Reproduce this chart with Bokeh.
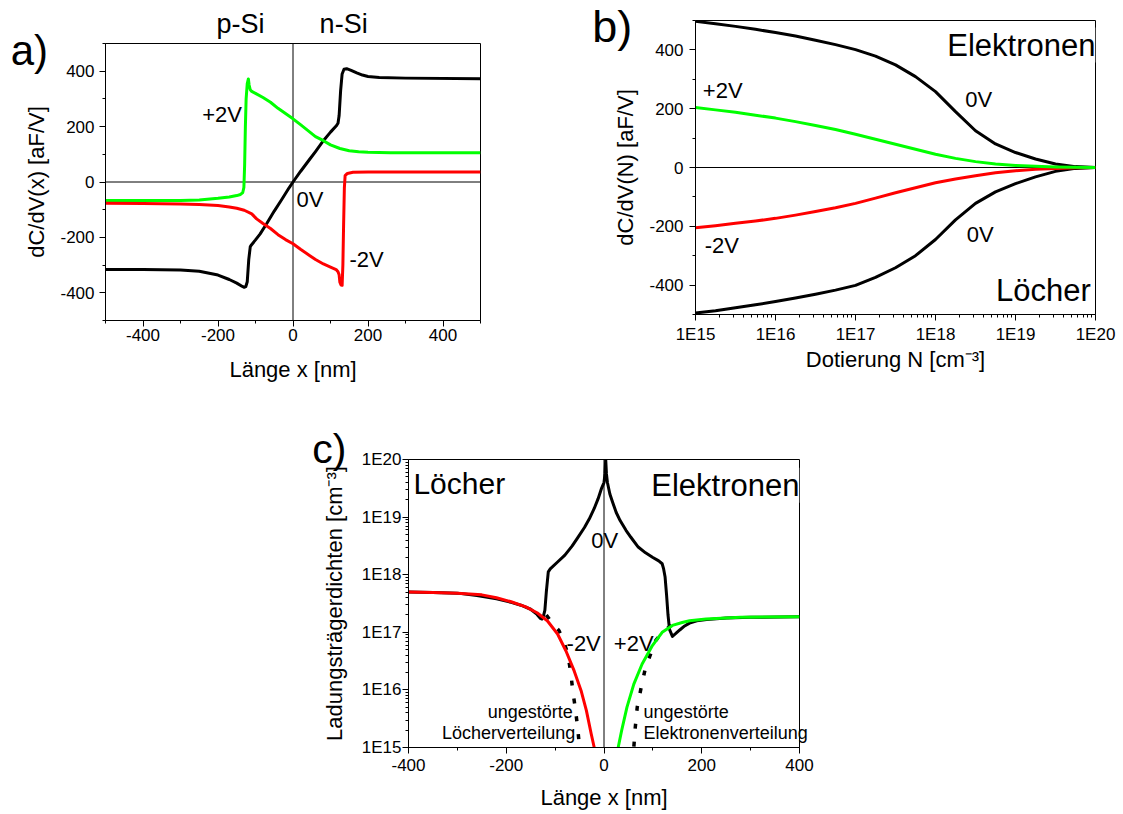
import numpy as np
from bokeh.plotting import figure
from bokeh.models import Range1d, FixedTicker, Span, Label, CustomJSTickFormatter, Spacer
from bokeh.layouts import row, column
from bokeh.embed import file_html
from bokeh.resources import INLINE

FONT = "Liberation Sans"
GREEN = "#00ff00"
RED = "#ff0000"

# ---------------- panel a: dC/dV(x) ----------------
a_x_0V = [-500, -400, -300, -250, -200, -170, -150, -135, -130, -126, -122, -118, -114, -112,
          -100, -88, -70, -50, -30, -10, 0, 20, 45, 60, 81, 100, 115, 120, 123, 127, 131, 136,
          143, 155, 170, 185, 200, 230, 300, 500]
a_y_0V = [-316, -316, -318, -322, -336, -352, -365, -377, -380, -378, -360, -280, -234, -229,
          -209, -188, -150, -105, -63, -20, 0, 38, 83, 110, 149, 180, 202, 212, 240, 330, 390, 407,
          409, 403, 394, 386, 381, 377, 375, 373]

a_x_p2V = [-500, -400, -300, -250, -200, -170, -150, -140, -134, -131, -129, -127, -125, -122,
           -119, -117, -114, -110, -100, -80, -60, -40, -20, 0, 20, 45, 60, 80, 100, 125, 150,
           175, 200, 260, 500]
a_y_p2V = [-67, -67, -67, -65, -59, -54, -49, -45, -38, -20, 60, 200, 300, 355,
           372, 350, 333, 327, 320, 305, 288, 266, 247, 228, 207, 180, 164, 150, 134, 121, 113,
           109, 107, 106, 106]

a_x_m2V = [-500, -400, -300, -250, -200, -170, -150, -130, -110, -97, -80, -60, -40, -20, 0,
           20, 45, 60, 81, 100, 115, 120, 123, 125, 128, 131, 133, 135, 137, 139, 145, 160, 200, 500]
a_y_m2V = [-77, -78, -79, -81, -85, -90, -95, -102, -115, -133, -150, -168, -190, -208, -223,
           -243, -266, -280, -296, -307, -316, -324, -335, -362, -372, -373, -300, -150, -20, 23,
           31, 35, 36, 36]

# ---------------- panel b: dC/dV(N) ----------------
b_logN = [15.0, 15.25, 15.5, 15.75, 16.0, 16.25, 16.5, 16.75, 17.0, 17.25, 17.5, 17.75, 18.0,
          18.25, 18.5, 18.75, 19.0, 19.25, 19.5, 19.75, 20.0]
b_el_0V = [497, 489, 480, 470, 459, 447, 433, 418, 401, 379, 349, 309, 258, 190, 125, 80, 51,
           29, 12, 3, 0]
b_lo_0V = [-495, -487, -477, -467, -456, -444, -431, -417, -401, -374, -341, -300, -245, -178,
           -122, -83, -55, -32, -13, -3, 0]
b_p2V = [204, 196, 188, 178, 168, 156, 143, 129, 113, 96, 79, 62, 45, 31, 20, 12, 7, 4, 2, 1, 0]
b_m2V = [-205, -198, -190, -182, -173, -162, -150, -137, -122, -104, -86, -69, -52, -39, -28,
         -18, -11, -6, -3, -1, 0]

# ---------------- panel c: carrier densities (log10 cm^-3) ----------------
c_x_0V = [-400, -350, -300, -260, -220, -190, -170, -150, -137, -130, -127, -124, -121, -118,
          -114, -110, -95, -80, -65, -54, -40, -30, -20, -12, -5, 0, 2, 3.5, 5, 7, 12, 18, 25,
          33, 45, 55, 70, 85, 100, 112, 119, 122, 125, 128, 131, 134, 140, 147, 155, 165, 175,
          190, 210, 250, 300, 400]
c_lg_0V = [17.70, 17.69, 17.68, 17.64, 17.58, 17.52, 17.47, 17.40, 17.31, 17.24, 17.23, 17.28,
           17.38, 17.70, 18.05, 18.10, 18.22, 18.34, 18.50, 18.64, 18.82, 18.97, 19.15, 19.32,
           19.50, 19.60, 19.75, 20.0, 19.75, 19.60, 19.40, 19.25, 19.08, 18.94, 18.77, 18.65,
           18.48, 18.38, 18.30, 18.24, 18.19, 18.10, 17.96, 17.65, 17.30, 17.05, 16.93, 16.98,
           17.04, 17.11, 17.16, 17.20, 17.22, 17.25, 17.26, 17.27]
c_x_m2V = [-400, -350, -300, -250, -220, -190, -160, -137, -116, -95, -78, -61, -47, -36, -26, -20]
c_lg_m2V = [17.70, 17.69, 17.68, 17.65, 17.60, 17.53, 17.44, 17.34, 17.20, 16.97, 16.68, 16.33,
            15.99, 15.64, 15.23, 15.0]
c_x_p2V = [29, 36, 47, 61, 78, 99, 119, 140, 160, 175, 209, 250, 279, 400]
c_lg_p2V = [15.0, 15.29, 15.70, 16.10, 16.45, 16.77, 17.00, 17.12, 17.17, 17.20, 17.23, 17.25,
            17.26, 17.27]
c_x_hole_ref = [-118, -105, -92, -80, -74, -68, -64, -59, -54, -50]
c_lg_hole_ref = [17.30, 17.15, 17.03, 16.78, 16.62, 16.30, 15.99, 15.70, 15.35, 15.0]
c_x_el_ref = [138, 130, 123, 106, 85, 76, 68, 64, 61]
c_lg_el_ref = [17.12, 17.07, 17.03, 16.86, 16.39, 16.04, 15.70, 15.35, 15.0]

lin_major = [-400, -200, 0, 200, 400]
lin_minor = [-500, -300, -100, 100, 300, 500]
log_major = [1e15, 1e16, 1e17, 1e18, 1e19, 1e20]
log_minor = [k * 10.0 ** e for e in range(15, 20) for k in range(2, 10)]


def style_axis(ax, ticks, minor, tick_standoff, label_standoff, log=False):
    ax.ticker = FixedTicker(ticks=ticks, minor_ticks=minor)
    if log:
        ax.formatter = CustomJSTickFormatter(code="return '1E' + Math.round(Math.log10(tick));")
    else:
        ax.formatter = CustomJSTickFormatter(code="return tick.toFixed(0);")
    ax.major_tick_out = 6
    ax.major_tick_in = 0
    ax.minor_tick_out = 3
    ax.minor_tick_in = 0
    ax.axis_line_color = "black"
    ax.major_tick_line_color = "black"
    ax.minor_tick_line_color = "black"
    ax.major_label_text_font = FONT
    ax.major_label_text_font_size = "17px"
    ax.major_label_text_color = "black"
    ax.major_label_standoff = tick_standoff
    ax.axis_label_text_font = FONT
    ax.axis_label_text_font_size = "22px"
    ax.axis_label_text_font_style = "normal"
    ax.axis_label_text_color = "black"
    ax.axis_label_standoff = label_standoff


def make_fig(**kw):
    p = figure(output_backend="svg", toolbar_location=None, title=None, **kw)
    p.grid.visible = False
    p.outline_line_color = "black"
    p.outline_line_alpha = 1.0
    p.outline_line_width = 1
    p.background_fill_color = "white"
    p.border_fill_color = "white"
    return p


def add_label(p, x, y, text, size, align="left", bg=None, place=None):
    fs = float(size.replace("px", ""))
    lab = Label(x=x, y=y, text=text, text_font=FONT, text_font_size=size,
                text_align=align, text_baseline="alphabetic", text_color="black",
                y_offset=round(0.36 * fs))
    if bg:
        lab.background_fill_color = bg
        lab.background_fill_alpha = 1.0
    if place is None:
        p.add_layout(lab)
    else:
        p.add_layout(lab, place)


# ---------- figure a ----------
fa = make_fig(frame_width=375, frame_height=277,
              x_range=Range1d(-500, 500), y_range=Range1d(-500, 500),
              min_border_left=105, min_border_right=88, min_border_top=43, min_border_bottom=88)
style_axis(fa.xaxis[0], lin_major, lin_minor, 2, 13)
style_axis(fa.yaxis[0], lin_major, lin_minor, 5, 8)
fa.xaxis.axis_label = "Länge x [nm]"
fa.yaxis.axis_label = "dC/dV(x) [aF/V]"
fa.add_layout(Span(location=0, dimension="width", line_color="black", line_width=1, level="underlay"))
fa.add_layout(Span(location=0, dimension="height", line_color="black", line_width=1, level="underlay"))
fa.line(a_x_0V, a_y_0V, line_color="black", line_width=3, line_join="round")
fa.line(a_x_p2V, a_y_p2V, line_color=GREEN, line_width=3, line_join="round")
fa.line(a_x_m2V, a_y_m2V, line_color=RED, line_width=3, line_join="round")
add_label(fa, -140, 536, "p-Si", "27px", "center", place="above")
add_label(fa, 135, 536, "n-Si", "27px", "center", place="right")
add_label(fa, -753, 421, "a)", "42px", "left", place="right")
add_label(fa, -189, 214, "+2V", "22px", "center")
add_label(fa, 45, -92, "0V", "22px", "center")
add_label(fa, 196, -309, "-2V", "22px", "center")

# ---------- figure b ----------
fb = make_fig(frame_width=400, frame_height=294, x_axis_type="log",
              x_range=Range1d(1e15, 1e20), y_range=Range1d(-500, 500),
              min_border_left=127, min_border_right=25, min_border_top=20, min_border_bottom=94)
style_axis(fb.xaxis[0], log_major, log_minor, 4, 0, log=True)
style_axis(fb.yaxis[0], lin_major, lin_minor, 6, 8)
fb.xaxis.axis_label = "Dotierung N [cm⁻³]"
fb.yaxis.axis_label = "dC/dV(N) [aF/V]"
fb.add_layout(Span(location=0, dimension="width", line_color="black", line_width=1, level="underlay"))
bN = 10.0 ** np.array(b_logN)
fb.line(bN, b_el_0V, line_color="black", line_width=3, line_join="round")
fb.line(bN, b_lo_0V, line_color="black", line_width=3, line_join="round")
fb.line(bN, b_m2V, line_color=RED, line_width=3, line_join="round")
fb.line(bN, b_p2V, line_color=GREEN, line_width=3, line_join="round")
add_label(fb, 1e20, 379, "Elektronen", "31px", "right", bg="white")
add_label(fb, 10 ** 19.94, -456, "Löcher", "31px", "right")
add_label(fb, 10 ** 18.54, 203, "0V", "22px", "center")
add_label(fb, 10 ** 18.56, -254, "0V", "22px", "center")
add_label(fb, 10 ** 15.34, 234, "+2V", "22px", "center")
add_label(fb, 10 ** 15.33, -291, "-2V", "22px", "center")
add_label(fb, 10 ** 13.71, 424, "b)", "45px", "left", place="left")

# ---------- figure c ----------
fc = make_fig(frame_width=391, frame_height=288, y_axis_type="log",
              x_range=Range1d(-400, 400), y_range=Range1d(1e15, 1e20),
              min_border_left=110, min_border_right=25, min_border_top=51, min_border_bottom=66)
style_axis(fc.xaxis[0], lin_major, lin_minor, 5, 11)
style_axis(fc.yaxis[0], log_major, log_minor, 1, 12, log=True)
fc.xaxis.axis_label = "Länge x [nm]"
fc.yaxis.axis_label = "Ladungsträgerdichten [cm⁻³]"
fc.add_layout(Span(location=0, dimension="height", line_color="black", line_width=1, level="underlay"))
fc.line(c_x_0V, 10.0 ** np.array(c_lg_0V), line_color="black", line_width=3, line_join="round")
fc.line(c_x_hole_ref, 10.0 ** np.array(c_lg_hole_ref), line_color="black", line_width=3.5,
        line_dash="5 13")
fc.line(c_x_el_ref, 10.0 ** np.array(c_lg_el_ref), line_color="black", line_width=3.5,
        line_dash="5 13")
fc.line(c_x_m2V, 10.0 ** np.array(c_lg_m2V), line_color=RED, line_width=3, line_join="round")
fc.line(c_x_p2V, 10.0 ** np.array(c_lg_p2V), line_color=GREEN, line_width=3, line_join="round")
add_label(fc, -390, 10 ** 19.40, "Löcher", "30px", "left")
add_label(fc, 400, 10 ** 19.36, "Elektronen", "31px", "right", bg="white")
add_label(fc, 1.4, 10 ** 18.45, "0V", "22px", "center")
add_label(fc, -41.6, 10 ** 16.67, "-2V", "22px", "center")
add_label(fc, 60.8, 10 ** 16.67, "+2V", "22px", "center")
add_label(fc, -64, 10 ** 15.515, "ungestörte", "18px", "right")
add_label(fc, -59, 10 ** 15.15, "Löcherverteilung", "18px", "right")
add_label(fc, 81, 10 ** 15.515, "ungestörte", "18px", "left")
add_label(fc, 81, 10 ** 15.15, "Elektronenverteilung", "18px", "left", place="right")
add_label(fc, -597, 10 ** 19.93, "c)", "41px", "left", place="right")

layout = column(row(column(fa), column(fb)), row(Spacer(width=298, height=405), fc))

open("out.html", "w").write(file_html(layout, INLINE))
